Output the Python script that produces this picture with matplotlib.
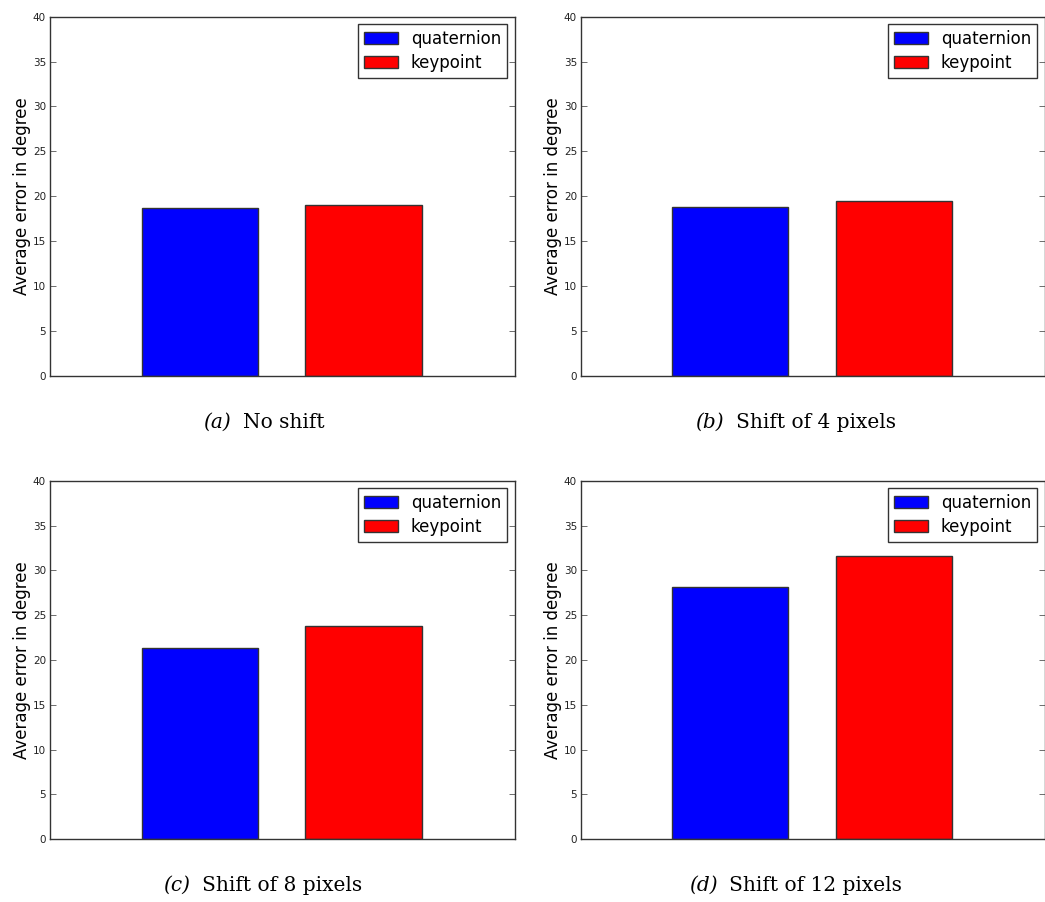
import numpy as np
import matplotlib
matplotlib.use("Agg")
import matplotlib.pyplot as plt

# Average orientation error (degrees) for each shift setting
methods = ["quaternion", "keypoint"]
method_colors = ["#0000ff", "#ff0000"]
panel_letters = ["(a)", "(b)", "(c)", "(d)"]
panel_titles = ["No shift", "Shift of 4 pixels", "Shift of 8 pixels", "Shift of 12 pixels"]
quaternion_err = [18.7, 18.85, 21.3, 28.1]
keypoint_err = [19.05, 19.45, 23.8, 31.6]
y_ticks = [0, 5, 10, 15, 20, 25, 30, 35, 40]

W, H = 1045, 902
fig = plt.figure(figsize=(W / 100, H / 100), dpi=100)
fig.patch.set_facecolor("white")

# axes boxes in pixels: (left, top, width, height)
boxes = [(49.5, 16.7, 465, 359), (580.5, 16.7, 464, 359),
         (49.5, 480.7, 465, 358.6), (580.5, 480.7, 464, 358.6)]
caption_centers = [264, 795.5, 262.5, 795.5]
caption_baselines = [428, 428, 891, 891]

positions = np.arange(len(methods))
bar_width = 0.71

axes = []
for i, (l, t, w, h) in enumerate(boxes):
    ax = fig.add_axes([l / W, 1 - (t + h) / H, w / W, h / H])
    values = [quaternion_err[i], keypoint_err[i]]
    for p, v, c, name in zip(positions, values, method_colors, methods):
        ax.bar(p, v, bar_width, color=c, edgecolor="#333333", linewidth=1.0, label=name)
    ax.set_xlim(-0.918, 1.923)
    ax.set_ylim(0, 40)
    ax.set_yticks(y_ticks)
    ax.set_xticks([])
    ax.tick_params(axis="y", direction="in", length=4, width=0.6, pad=2.5,
                   labelsize=7.5, labelcolor="#222222", colors="#555555", right=True)
    for s in ax.spines.values():
        s.set_color("#333333")
        s.set_linewidth(1.0)
    ax.set_ylabel("Average error in degree", fontsize=12, labelpad=1.5)
    leg = ax.legend(loc="upper right", fontsize=12, fancybox=False, framealpha=1,
                    borderaxespad=0.45, borderpad=0.35, labelspacing=0.35,
                    handlelength=2.0, handleheight=0.7, handletextpad=0.8)
    leg.get_frame().set_edgecolor("#333333")
    leg.get_frame().set_linewidth(1.0)
    axes.append(ax)

# Sub-figure captions: italic label followed by upright text, centred as a unit
renderer = fig.canvas.get_renderer()
cap_font = dict(family="DejaVu Serif", fontsize=14.5, color="black")
gap_px = 12
for letter, title, cx, by in zip(panel_letters, panel_titles, caption_centers, caption_baselines):
    t1 = fig.text(0, 1 - by / H, letter, style="italic", va="baseline", ha="left", **cap_font)
    t2 = fig.text(0, 1 - by / H, title, va="baseline", ha="left", **cap_font)
    w1 = t1.get_window_extent(renderer).width
    w2 = t2.get_window_extent(renderer).width
    x0 = cx - (w1 + gap_px + w2) / 2
    t1.set_x(x0 / W)
    t2.set_x((x0 + w1 + gap_px) / W)

fig.savefig("out.png", dpi=100, facecolor="white")
